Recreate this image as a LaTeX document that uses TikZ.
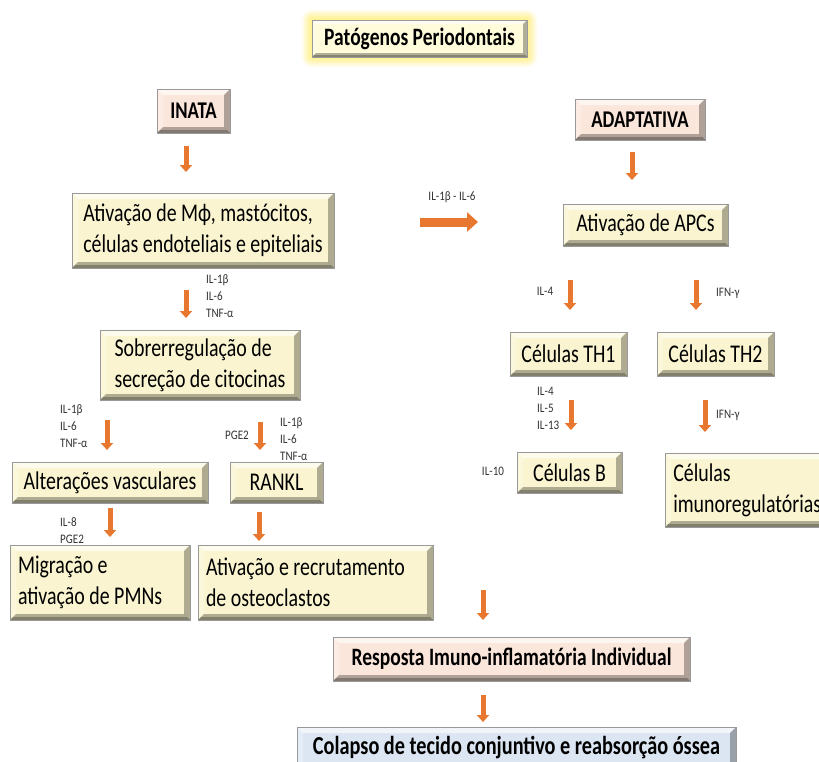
\documentclass[tikz,border=0pt]{standalone}
\usepackage{fontspec}
\setmainfont{Carlito}[FakeStretch=0.78]
\newfontfamily\labfont{Carlito}[FakeStretch=0.85]
\usetikzlibrary{arrows.meta}
\definecolor{cream}{HTML}{FAF5D0}
\definecolor{peach}{HTML}{FBE6DB}
\definecolor{skyb}{HTML}{DCE6F2}
\definecolor{orng}{HTML}{E8782F}
\definecolor{titlefill}{HTML}{FFFCDC}
\definecolor{glow}{HTML}{FFF07A}
\tikzset{
  bev/.style={path picture={
    \fill[white,opacity=0.6] (path picture bounding box.north west) -- (path picture bounding box.north east) -- ([shift={(-#1,-#1)}]path picture bounding box.north east) -- ([shift={(#1,-#1)}]path picture bounding box.north west) -- cycle;
    \fill[white,opacity=0.25] (path picture bounding box.south west) -- (path picture bounding box.north west) -- ([shift={(#1,-#1)}]path picture bounding box.north west) -- ([shift={(#1,#1)}]path picture bounding box.south west) -- cycle;
    \fill[black,opacity=0.3] (path picture bounding box.south west) -- (path picture bounding box.south east) -- ([shift={(-#1,#1)}]path picture bounding box.south east) -- ([shift={(#1,#1)}]path picture bounding box.south west) -- cycle;
    \fill[black,opacity=0.25] (path picture bounding box.south west) -- (path picture bounding box.south east) -- ([shift={(-#1/2,#1/2)}]path picture bounding box.south east) -- ([shift={(#1/2,#1/2)}]path picture bounding box.south west) -- cycle;
    \fill[black,opacity=0.3] (path picture bounding box.south east) -- (path picture bounding box.north east) -- ([shift={(-#1,-#1)}]path picture bounding box.north east) -- ([shift={(-#1,#1)}]path picture bounding box.south east) -- cycle;
  }},
  box/.style={bev=6pt, fill=cream, draw=black!40, line width=0.5pt, inner sep=0pt,
    font=\fontsize{25.5}{31}\selectfont, text=black},
  pbox/.style={box, fill=peach, font=\fontsize{24}{28}\selectfont\bfseries},
  arr/.style={orng, line width=5pt, -{Triangle[width=12pt,length=7pt]}},
  bigarr/.style={orng, line width=9pt, -{Triangle[width=19pt,length=11pt]}},
  lab/.style={font=\labfont\fontsize{13}{17}\selectfont, text=black!80, align=left, inner sep=0pt},
}
\begin{document}
\begin{tikzpicture}[x=1pt,y=-1pt]
\fill[white] (0,0) rectangle (819,761);
\useasboundingbox (0,0) rectangle (819,761);
% title glow
\foreach \g/\o in {10/0.15,8/0.2,6/0.25,4/0.3,2/0.35}{
  \fill[glow,opacity=\o,rounded corners=\g pt] (312-\g,20-\g) rectangle (527+\g,57+\g);
}
\node[box, bev=4pt, fill=titlefill, minimum width=215pt, minimum height=37pt,
  font=\fontsize{25}{28}\selectfont\bfseries] (title) at (419.5,38.5) {Patógenos Periodontais};

\node[pbox, minimum width=73pt, minimum height=44pt] (inata) at (193.5,111) {INATA};
\node[pbox, minimum width=130pt, minimum height=41pt] (adapt) at (640,119.5) {ADAPTATIVA};

\node[box, minimum width=262pt, minimum height=75pt, align=left] (act) at (203,230.5)
  {Ativação de Mϕ, mastócitos,\\células endoteliais e epiteliais};
\node[box, minimum width=165pt, minimum height=42pt] (apc) at (645.5,225) {Ativação de APCs};
\node[box, minimum width=200pt, minimum height=70pt, align=left] (sobre) at (200,365)
  {Sobrerregulação de\\secreção de citocinas};
\node[box, minimum width=117pt, minimum height=44pt] (th1) at (568.5,354) {Células TH1};
\node[box, minimum width=117pt, minimum height=44pt] (th2) at (715.5,354) {Células TH2};
\node[box, minimum width=196pt, minimum height=41pt] (alt) at (110,482.5) {Alterações vasculares};
\node[box, minimum width=93pt, minimum height=41pt] (rankl) at (276.5,482.5) {RANKL};
\node[box, minimum width=105pt, minimum height=41pt] (cb) at (569.5,472.5) {Células B};
\node[box, anchor=west, minimum height=74pt, inner xsep=8pt, text width=174pt, align=flush left] (imuno) at (665,490)
  {Células\\imunoregulatórias};
\node[box, minimum height=75pt, inner xsep=8pt, text width=164pt, align=flush left] (mig) at (100,582.5)
  {Migração e\\ativação de PMNs};
\node[box, minimum height=75pt, inner xsep=8pt, text width=219pt, align=flush left] (osteo) at (315.5,582.5)
  {Ativação e recrutamento\\de osteoclastos};
\node[pbox, minimum width=357pt, minimum height=44pt, font=\fontsize{25}{28}\selectfont\bfseries] (resp) at (511.5,659) {Resposta Imuno-inflamatória Individual};
\node[pbox, fill=skyb, minimum width=439pt, minimum height=48pt, font=\fontsize{26}{28}\selectfont\bfseries] (colap) at (516.5,751) {\raisebox{12pt}{Colapso de tecido conjuntivo e reabsorção óssea}};

% arrow end points
\coordinate (a1s) at (186,146); \coordinate (a1e) at (186,172);
\coordinate (a2s) at (632,152); \coordinate (a2e) at (632,180);
\coordinate (a3s) at (186,290); \coordinate (a3e) at (186,318);
\coordinate (h1s) at (420,222); \coordinate (h1e) at (478,222);
\coordinate (a4s) at (570,280); \coordinate (a4e) at (570,310);
\coordinate (a5s) at (696,280); \coordinate (a5e) at (696,310);
\coordinate (a6s) at (107,420); \coordinate (a6e) at (107,450);
\coordinate (a7s) at (260,422); \coordinate (a7e) at (260,450);
\coordinate (a8s) at (571,400); \coordinate (a8e) at (571,430);
\coordinate (a9s) at (705,400); \coordinate (a9e) at (705,432);
\coordinate (a10s) at (110,508); \coordinate (a10e) at (110,537);
\coordinate (a11s) at (259,512); \coordinate (a11e) at (259,541);
\coordinate (a12s) at (483,590); \coordinate (a12e) at (483,620);
\coordinate (a13s) at (483,695); \coordinate (a13e) at (483,722);
\foreach \s/\e in {a1s/a1e,a2s/a2e,a3s/a3e,a4s/a4e,a5s/a5e,a6s/a6e,a7s/a7e,a8s/a8e,a9s/a9e,a10s/a10e,a11s/a11e,a12s/a12e,a13s/a13e}
  \draw[arr] (\s) -- (\e);
\draw[bigarr] (h1s) -- (h1e);

% labels
\node[lab] (lh1) at (452,197) {IL-1β - IL-6};
\node[lab, anchor=west] (l3) at (206,296) {IL-1β\\IL-6\\TNF-α};
\node[lab] (l4) at (545,291) {IL-4};
\node[lab, anchor=west] (l5) at (716,293) {IFN-γ};
\node[lab, anchor=west] (l6) at (60,426) {IL-1β\\IL-6\\TNF-α};
\node[lab] (l7) at (237,435) {PGE2};
\node[lab, anchor=west] (l7b) at (280,439) {IL-1β\\IL-6\\TNF-α};
\node[lab, anchor=west] (l8) at (537,408) {IL-4\\IL-5\\IL-13};
\node[lab, anchor=west] (l9) at (716,415) {IFN-γ};
\node[lab] (l10) at (493,471) {IL-10};
\node[lab, anchor=west] (l11) at (60,531) {IL-8\\PGE2};
\end{tikzpicture}
\end{document}
